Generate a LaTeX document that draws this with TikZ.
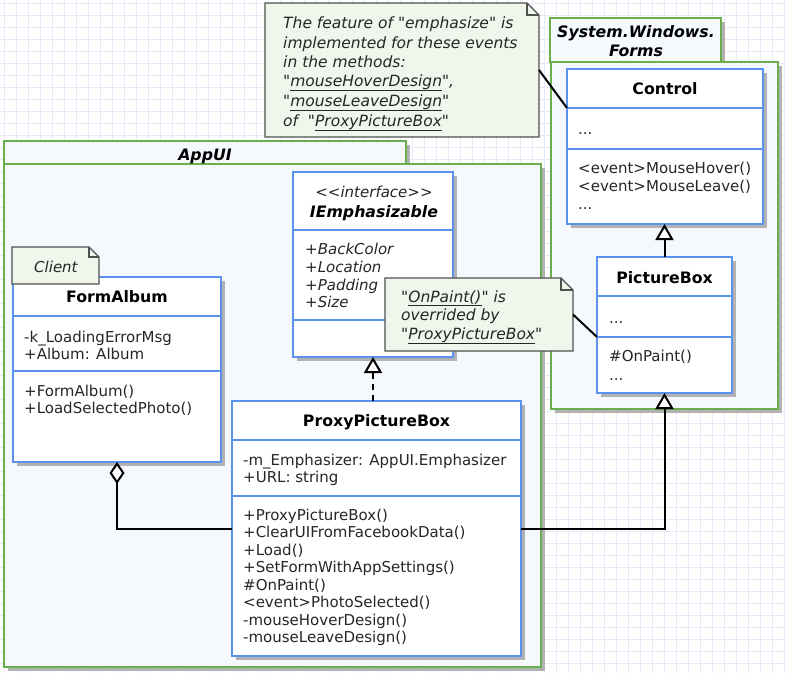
\documentclass[tikz,border=0pt]{standalone}
\usepackage{fontspec}
\setmainfont{DejaVu Sans}[Ligatures=TeXOff]
\usetikzlibrary{arrows.meta,shadows,calc}
\definecolor{clsblue}{HTML}{5A93EE}
\definecolor{pkggreen}{HTML}{6AAE4E}
\definecolor{pkgfill}{HTML}{F5F9FE}
\definecolor{notefill}{HTML}{EFF6EB}
\definecolor{noteline}{HTML}{505050}
\definecolor{gridc}{HTML}{E8E8F8}
\definecolor{txtgrey}{HTML}{262626}
\definecolor{shadowc}{HTML}{B2B2B2}
\begin{document}
\begin{tikzpicture}[x=1pt,y=-1pt,
  shad/.style={drop shadow={shadow xshift=4pt,shadow yshift=-4pt,fill=shadowc,opacity=1}},
  box/.style={draw=clsblue,line width=2.8pt,fill=white,inner sep=0pt,outer sep=0pt,anchor=north west},
  pkgbox/.style={draw=pkggreen,line width=2.2pt,fill=pkgfill,inner sep=0pt,outer sep=0pt,anchor=north west},
  frame/.style={draw=none,fill=none,inner sep=0pt,outer sep=0pt,anchor=north west},
  notepath/.style={draw=noteline,line width=1.2pt,fill=notefill,line join=miter},
  notefold/.style={draw=noteline,line width=1.2pt},
  ctext/.style={anchor=base west,inner sep=0pt,text=txtgrey,font=\fontsize{15}{18}\selectfont},
  itext/.style={ctext,font=\fontsize{15}{18}\selectfont\itshape},
  ntext/.style={anchor=base west,inner sep=0pt,text=txtgrey,font=\fontsize{15.5}{19.5}\selectfont\itshape},
  hdr/.style={anchor=base,inner sep=0pt,text=black,font=\fontsize{15.75}{18}\selectfont\bfseries},
  pkgtitle/.style={anchor=base,inner sep=0pt,text=black,font=\fontsize{15.75}{19}\selectfont\bfseries\itshape},
  conn/.style={draw=black,line width=2pt},
  inh/.style={conn,-{Triangle[length=16pt,width=18pt,fill=white]}},
  agg/.style={conn,-{Diamond[length=22pt,width=15pt,fill=white]}},
  real/.style={conn,dash pattern=on 6pt off 5pt,-{Triangle[length=16pt,width=18pt,fill=white]}},
]
\useasboundingbox (0,0) rectangle (785,673);
\fill[white] (0,0) rectangle (785,673);
% grid
\foreach \gx in {4,16,...,784} \draw[gridc,line width=0.9pt] (\gx,0) -- (\gx,673);
\foreach \gy in {3,15,...,672} \draw[gridc,line width=0.9pt] (0,\gy) -- (785,\gy);

% packages
\node[pkgbox,shad,minimum width=402,minimum height=23] (appuitab) at (4,141) {};
\node[pkgbox,shad,minimum width=537,minimum height=503] (appui) at (4,164) {};
\node[pkgtitle] (appuiname) at (205,160) {AppUI};

\node[pkgbox,shad,minimum width=171,minimum height=44] (swftab) at (550,18) {};
\node[pkgbox,shad,minimum width=227,minimum height=347] (swf) at (551,62) {};
\node[pkgtitle] (swfname1) at (636,37) {System.Windows.};
\node[pkgtitle] (swfname2) at (636,56) {Forms};

% Control
\node[box,shad,minimum width=196,minimum height=155] (ctl) at (567,69) {};
\node[box,minimum width=196,minimum height=39] (ctlh) at (ctl.north west) {};
\node[box,minimum width=196,minimum height=41] (ctla) at (ctlh.south west) {};
\node[hdr] (ctlname) at (665,94) {Control};
\node[ctext] (ctla0) at (578,134) {...};
\node[ctext] (ctlm0) at (578,173) {<event>MouseHover()};
\node[ctext] (ctlm1) at (578,191) {<event>MouseLeave()};
\node[ctext] (ctlm2) at (578,209) {...};

% PictureBox
\node[box,shad,minimum width=135,minimum height=136] (pb) at (597,257) {};
\node[box,minimum width=135,minimum height=39] (pbh) at (pb.north west) {};
\node[box,minimum width=135,minimum height=41] (pba) at (pbh.south west) {};
\node[hdr] (pbname) at (664.5,283) {PictureBox};
\node[ctext] (pba0) at (609,323) {...};
\node[ctext] (pbm0) at (609,361) {\#OnPaint()};
\node[ctext] (pbm1) at (609,380) {...};

% IEmphasizable
\node[box,shad,minimum width=160,minimum height=185] (ie) at (293,172) {};
\node[box,minimum width=160,minimum height=58] (ieh) at (ie.north west) {};
\node[box,minimum width=160,minimum height=90] (iea) at (ieh.south west) {};
\node[anchor=base,inner sep=0pt,text=txtgrey,font=\fontsize{15}{18}\selectfont\itshape] (iester) at (374,197) {<{}<interface>{}>};
\node[hdr,font=\fontsize{15.75}{18}\selectfont\bfseries\itshape] (iename) at (374,217) {IEmphasizable};
\node[itext] (iea0) at (305,254) {+BackColor};
\node[itext] (iea1) at (305,272) {+Location};
\node[itext] (iea2) at (305,290) {+Padding};
\node[itext] (iea3) at (305,307) {+Size};

% FormAlbum
\node[box,shad,minimum width=208,minimum height=185] (fa) at (13,277) {};
\node[box,minimum width=208,minimum height=39] (fah) at (fa.north west) {};
\node[box,minimum width=208,minimum height=55] (faa) at (fah.south west) {};
\node[hdr] (faname) at (117,302) {FormAlbum};
\node[ctext] (faa0) at (24,342) {-k\_LoadingErrorMsg};
\node[ctext] (faa1) at (24,359) {+Album: Album};
\node[ctext] (fam0) at (24,396) {+FormAlbum()};
\node[ctext] (fam1) at (24,413) {+LoadSelectedPhoto()};

% ProxyPictureBox
\node[box,shad,minimum width=289,minimum height=255] (ppb) at (232,401) {};
\node[box,minimum width=289,minimum height=39] (ppbh) at (ppb.north west) {};
\node[box,minimum width=289,minimum height=56] (ppba) at (ppbh.south west) {};
\node[hdr] (ppbname) at (376.5,426) {ProxyPictureBox};
\node[ctext] (ppba0) at (243,465) {-m\_Emphasizer: AppUI.Emphasizer};
\node[ctext] (ppba1) at (243,482) {+URL: string};
\node[ctext] (ppbm0) at (243,520) {+ProxyPictureBox()};
\node[ctext] (ppbm1) at (243,537.5) {+ClearUIFromFacebookData()};
\node[ctext] (ppbm2) at (243,555) {+Load()};
\node[ctext] (ppbm3) at (243,572.5) {+SetFormWithAppSettings()};
\node[ctext] (ppbm4) at (243,590) {\#OnPaint()};
\node[ctext] (ppbm5) at (243,607.5) {<event>PhotoSelected()};
\node[ctext] (ppbm6) at (243,625) {-mouseHoverDesign()};
\node[ctext] (ppbm7) at (243,642.5) {-mouseLeaveDesign()};

% notes
\node[frame,minimum width=274,minimum height=134] (n1) at (265,3) {};
\path[notepath] (n1.north west) -- ([xshift=-12pt]n1.north east) -- ([yshift=-12pt]n1.north east) -- (n1.south east) -- (n1.south west) -- cycle;
\draw[notefold] ([xshift=-12pt]n1.north east) |- ([yshift=-12pt]n1.north east);
\node[ntext] (n1l0) at (283,28) {The feature of "emphasize" is};
\node[ntext] (n1l1) at (283,48) {implemented for these events};
\node[ntext] (n1l2) at (283,67) {in the methods:};
\node[ntext] (n1l3) at (283,86) {"\underline{mouseHoverDesign}",};
\node[ntext] (n1l4) at (283,106) {"\underline{mouseLeaveDesign}"};
\node[ntext] (n1l5) at (283,126) {of~~"\underline{ProxyPictureBox}"};

\node[frame,minimum width=87,minimum height=37] (n3) at (12,247) {};
\path[notepath] (n3.north west) -- ([xshift=-10pt]n3.north east) -- ([yshift=-10pt]n3.north east) -- (n3.south east) -- (n3.south west) -- cycle;
\draw[notefold] ([xshift=-10pt]n3.north east) |- ([yshift=-10pt]n3.north east);
\node[ntext,font=\fontsize{15}{18}\selectfont\itshape] (n3l0) at (34,272) {Client};

\node[frame,minimum width=188,minimum height=73] (n2) at (385,278) {};
\path[notepath] (n2.north west) -- ([xshift=-12pt]n2.north east) -- ([yshift=-12pt]n2.north east) -- (n2.south east) -- (n2.south west) -- cycle;
\draw[notefold] ([xshift=-12pt]n2.north east) |- ([yshift=-12pt]n2.north east);
\node[ntext] (n2l0) at (401,302) {"\underline{OnPaint()}" is};
\node[ntext] (n2l1) at (401,320.5) {overrided by};
\node[ntext] (n2l2) at (401,339) {"\underline{ProxyPictureBox}"};

% connectors
\draw[conn] (n1.east) -- (ctlh.south west);
\draw[conn] (n2.east) -- (pba.south west);
\draw[inh] (pb.north) -- (pb.north |- ctl.south);
\draw[inh] (ppb.east) -| (pb.south);
\draw[agg] (ppb.west) -| (fa.south);
\draw[real] (ie.south |- ppb.north) -- (ie.south);
\end{tikzpicture}
\end{document}
